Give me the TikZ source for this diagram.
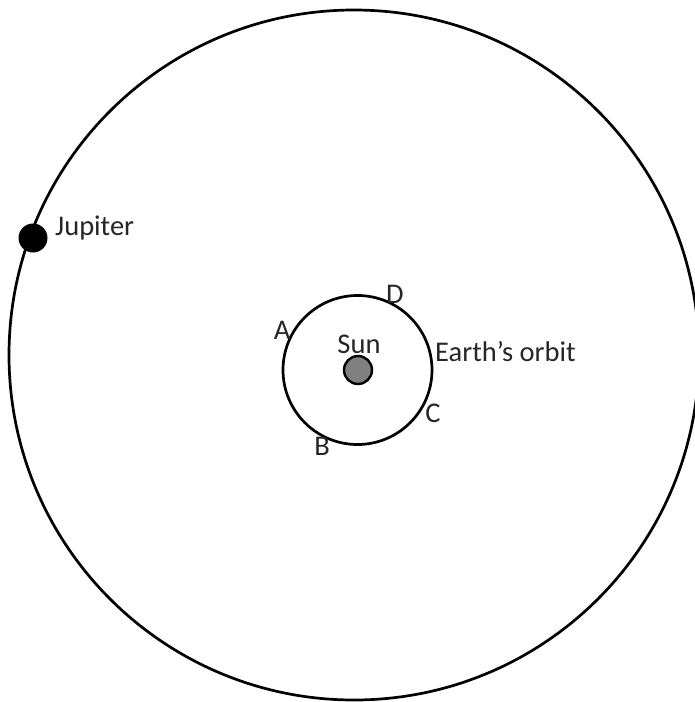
\documentclass[tikz,border=0pt]{standalone}
\usepackage{fontspec}
\setmainfont{Carlito}
\begin{document}
\begin{tikzpicture}[x=1pt,y=-1pt,
  orbit/.style={draw=black,line width=2.7pt},
  lbl/.style={font=\fontsize{28.5}{31}\selectfont,inner sep=0pt,text=black!85,anchor=base}]
\useasboundingbox (0,0) rectangle (695,702);
\node[orbit,circle,minimum size=690pt,inner sep=0pt] (jorbit) at (354,355) {};
\node[orbit,circle,minimum size=149pt,inner sep=0pt] (eorbit) at (357.5,370) {};
\node[circle,fill=black!50,draw=black,line width=2.4pt,minimum size=28pt,inner sep=0pt] (sun) at (358,370) {};
\node[circle,fill=black,minimum size=29pt,inner sep=0pt] (jup) at (33,238) {};
\node[lbl,anchor=base west] (jlabel) at (55,235) {Jupiter};
\node[lbl] (sunlabel) at (359,353) {Sun};
\node[lbl,anchor=base west] (elabel) at (435,361) {Earth’s orbit};
\node[lbl] (A) at (282,339) {A};
\node[lbl] (D) at (395,303) {D};
\node[lbl] (C) at (433,422) {C};
\node[lbl] (B) at (322,455) {B};
\end{tikzpicture}
\end{document}
